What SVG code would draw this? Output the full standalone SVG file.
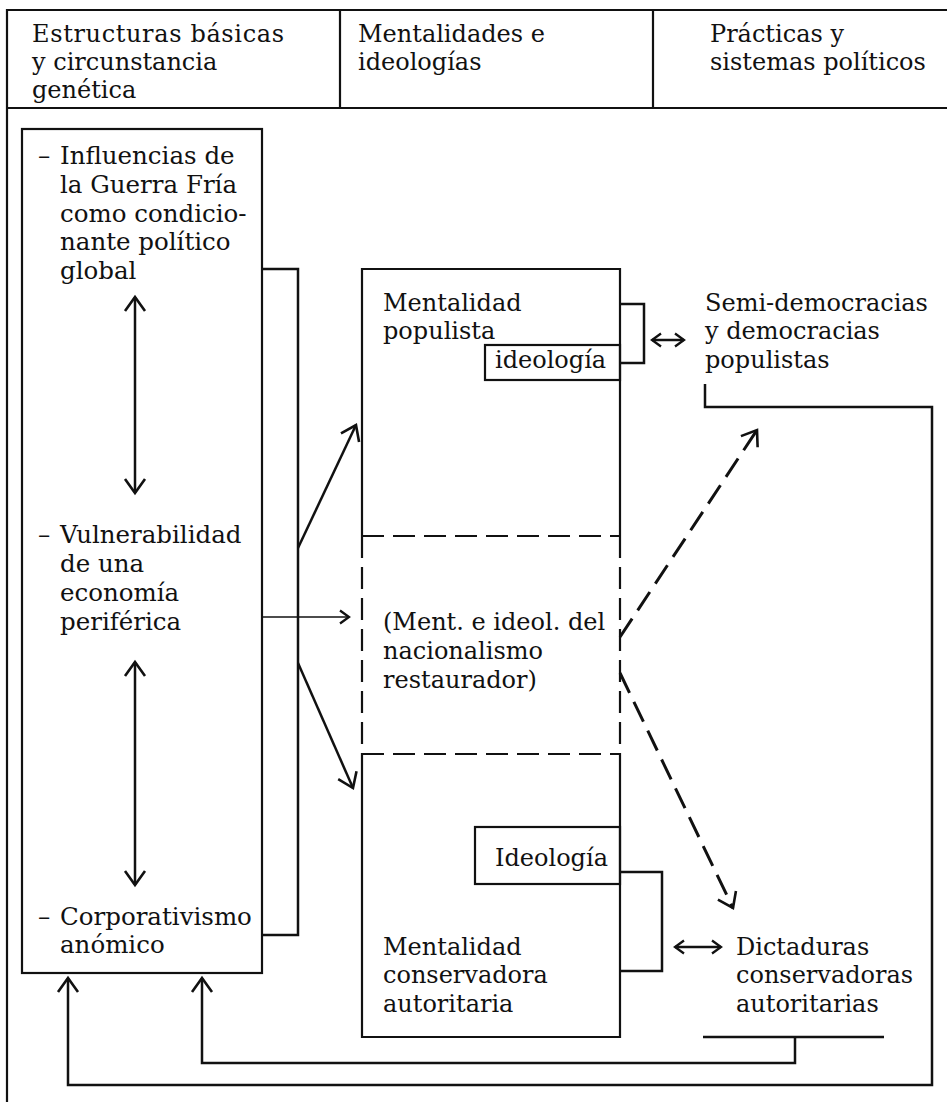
<svg xmlns="http://www.w3.org/2000/svg" width="947" height="1102" viewBox="0 0 947 1102">
<style>
.t{font-family:"DejaVu Serif","Liberation Serif",serif;font-size:24px;fill:#111}
.l{font-size:24.5px}
.b{fill:none;stroke:#111;stroke-width:2.2}
.c{fill:none;stroke:#111;stroke-width:2.5}
.thin{fill:none;stroke:#111;stroke-width:1.6}
.d{fill:none;stroke:#111;stroke-width:2.2;stroke-dasharray:22 9}
.dd{fill:none;stroke:#111;stroke-width:3;stroke-dasharray:22 10}
</style>
<defs>
<marker id="ah" viewBox="-16 -12 20 24" refX="0" refY="0" markerWidth="20" markerHeight="24" markerUnits="userSpaceOnUse" orient="auto-start-reverse" overflow="visible"><path d="M-14,-10 L0,0 L-14,10" fill="none" stroke="#111" stroke-width="2.6"/></marker>
<marker id="ahs" viewBox="-12 -9 14 18" refX="0" refY="0" markerWidth="14" markerHeight="18" markerUnits="userSpaceOnUse" orient="auto-start-reverse" overflow="visible"><path d="M-9,-6.5 L0,0 L-9,6.5" fill="none" stroke="#111" stroke-width="2.3"/></marker>
</defs>
<rect width="947" height="1102" fill="#fff"/>

<g id="frame">
<path class="b" d="M947,10 H7 V1102"/>
<path class="b" d="M7,108 H947"/>
<path class="b" d="M340,10 V108 M653,10 V108"/>
</g>

<g id="header-col1">
<text class="t" x="32" y="42" textLength="252" lengthAdjust="spacing">Estructuras básicas</text>
<text class="t" x="32" y="70">y circunstancia</text>
<text class="t" x="32" y="98">genética</text>
</g>
<g id="header-col2">
<text class="t" x="358" y="42">Mentalidades e</text>
<text class="t" x="358" y="70">ideologías</text>
</g>
<g id="header-col3">
<text class="t" x="710" y="42">Prácticas y</text>
<text class="t" x="710" y="70">sistemas políticos</text>
</g>

<g id="left-box">
<rect class="b" x="22" y="129" width="240" height="844"/>
<text class="t l" x="38" y="164">–</text>
<text class="t l" x="60" y="164">Influencias de</text>
<text class="t l" x="60" y="193">la Guerra Fría</text>
<text class="t l" x="60" y="222">como condicio-</text>
<text class="t l" x="60" y="250">nante político</text>
<text class="t l" x="60" y="279">global</text>
<text class="t l" x="38" y="543">–</text>
<text class="t l" x="60" y="543">Vulnerabilidad</text>
<text class="t l" x="60" y="572">de una</text>
<text class="t l" x="60" y="601">economía</text>
<text class="t l" x="60" y="630">periférica</text>
<text class="t l" x="38" y="925">–</text>
<text class="t l" x="60" y="925">Corporativismo</text>
<text class="t l" x="60" y="953">anómico</text>
</g>

<g id="middle-box">
<path class="b" d="M362,536 V269 H620 V536"/>
<path class="b" d="M362,754 V1037 H620 V754"/>
<path class="d" d="M362,536 H620 M362,754 H620 M362,536 V754 M620,536 V754"/>
<text class="t" x="383" y="311">Mentalidad</text>
<text class="t" x="383" y="339">populista</text>
<text class="t" x="383" y="630">(Ment. e ideol. del</text>
<text class="t" x="383" y="659">nacionalismo</text>
<text class="t" x="383" y="688">restaurador)</text>
<text class="t" x="383" y="955">Mentalidad</text>
<text class="t" x="383" y="983">conservadora</text>
<text class="t" x="383" y="1012">autoritaria</text>
</g>

<g id="ideologia-populista">
<rect class="b" x="485" y="345" width="135" height="35"/>
<text class="t" x="495" y="368">ideología</text>
</g>

<g id="ideologia-conservadora">
<rect class="b" x="475" y="827" width="145" height="57"/>
<text class="t" x="495" y="866">Ideología</text>
</g>

<g id="semi-democracias">
<text class="t" x="705" y="311">Semi-democracias</text>
<text class="t" x="705" y="339">y democracias</text>
<text class="t" x="705" y="368">populistas</text>
</g>

<g id="dictaduras">
<text class="t" x="736" y="955">Dictaduras</text>
<text class="t" x="736" y="983">conservadoras</text>
<text class="t" x="736" y="1012">autoritarias</text>
</g>

<g id="connectors">
<line class="c" x1="135" y1="297" x2="135" y2="493" marker-start="url(#ah)" marker-end="url(#ah)"/>
<line class="c" x1="135" y1="662" x2="135" y2="885" marker-start="url(#ah)" marker-end="url(#ah)"/>
<path class="c" d="M262,269 H298 V935 H262"/>
<line class="c" x1="298" y1="548" x2="356" y2="425" marker-end="url(#ah)"/>
<line class="thin" x1="262" y1="617" x2="349" y2="617" marker-end="url(#ahs)"/>
<line class="c" x1="298" y1="663" x2="353" y2="788" marker-end="url(#ah)"/>
<path class="c" d="M620,304 H644 V363 H620"/>
<line class="c" x1="652" y1="340" x2="684" y2="340" marker-start="url(#ahs)" marker-end="url(#ahs)"/>
<path class="c" d="M620,872 H662 V971 H620"/>
<line class="c" x1="675" y1="947" x2="721" y2="947" marker-start="url(#ahs)" marker-end="url(#ahs)"/>
<line class="dd" x1="620" y1="637" x2="757" y2="430" marker-end="url(#ah)"/>
<line class="dd" x1="620" y1="673" x2="733" y2="908" marker-end="url(#ah)"/>
<path class="c" d="M703,1037 H884"/>
<path class="c" d="M795,1037 V1063 H202 V978" marker-end="url(#ah)"/>
<path class="c" d="M705,384 V407 H932 V1085 H68 V978" marker-end="url(#ah)"/>
</g>
</svg>
